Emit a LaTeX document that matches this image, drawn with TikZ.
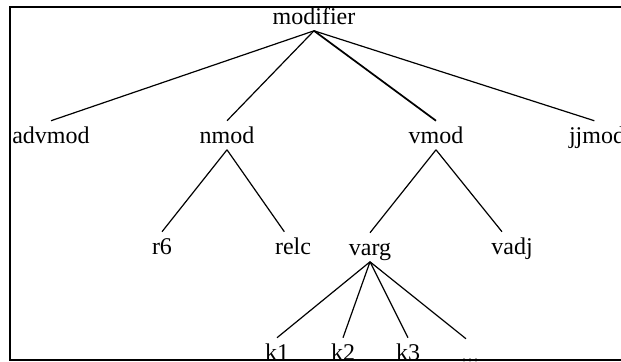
\documentclass[tikz,border=0pt]{standalone}
\usepackage{fontspec}
\setmainfont{Liberation Serif}
\begin{document}
\begin{tikzpicture}[x=0.75pt,y=-0.75pt,
  lbl/.style={anchor=base, inner sep=0pt, text height=16.5pt, text depth=4.9pt,
              font=\fontsize{18}{20}\selectfont},
  edge/.style={line width=0.9pt},
  heavy/.style={line width=1.3pt},
  frame/.style={line width=1.5pt}]
\useasboundingbox (0,0) rectangle (621,361);

% labels of the tree
\node[lbl] (root)   at (314,24)  {modifier};
\node[lbl] (advmod) at (51,143)  {advmod};
\node[lbl] (nmod)   at (227,143) {nmod};
\node[lbl] (vmod)   at (436,143) {vmod};
\node[lbl] (jjmod)  at (597,143) {jjmod};
\node[lbl] (r6)     at (162,254) {r6};
\node[lbl] (relc)   at (293,254) {relc};
\node[lbl] (varg)   at (370,255) {varg};
\node[lbl] (vadj)   at (512,254) {vadj};
\node[lbl] (k1)     at (277,360) {k1};
\node[lbl] (k2)     at (343,360) {k2};
\node[lbl] (k3)     at (408,360) {k3};
\node[lbl] (kmore)  at (470,361) {...};

% branches
\draw[edge]  (root.south) -- (advmod.north);
\draw[edge]  (root.south) -- (nmod.north);
\draw[heavy] (root.south) -- (vmod.north);
\draw[edge]  (root.south) -- ([xshift=-2pt]jjmod.north);

\draw[edge] (nmod.south) -- (r6.north);
\draw[edge] (nmod.south) -- ([xshift=-6.5pt]relc.north);
\draw[edge] (vmod.south) -- (varg.north);
\draw[edge] (vmod.south) -- ([xshift=-7.5pt]vadj.north);

\draw[edge] (varg.south) -- (k1.north);
\draw[edge] (varg.south) -- (k2.north);
\draw[edge] (varg.south) -- (k3.north);
\draw[edge] (varg.south) -- ([xshift=-3pt]kmore.north);

% surrounding frame
\draw[frame] (10,7) rectangle (660,360);
\end{tikzpicture}
\end{document}
